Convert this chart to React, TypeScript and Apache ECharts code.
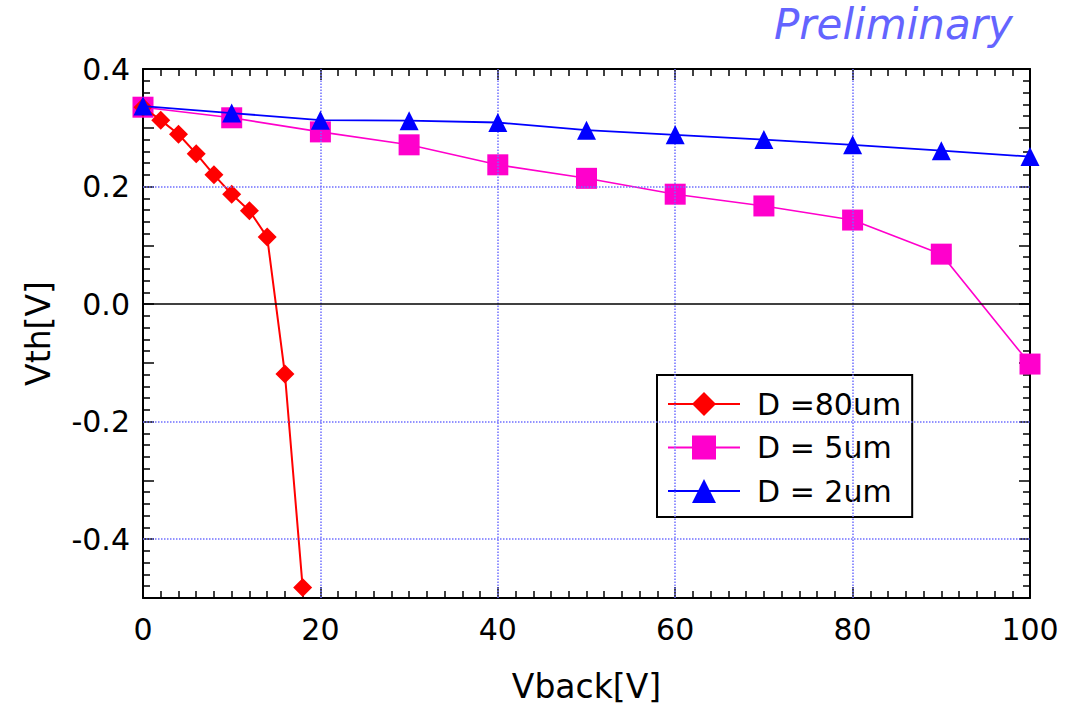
import { useEffect, useRef } from "react";
import * as echarts from "echarts";

// Threshold voltage vs. back-bias voltage for three doping depths
const vback80 = [0, 2, 4, 6, 8, 10, 12, 14, 16, 18];
const vth80 = [0.335, 0.313, 0.289, 0.256, 0.22, 0.187, 0.159, 0.114, -0.119, -0.482];

const vback5 = [0, 10, 20, 30, 40, 50, 60, 70, 80, 90, 100];
const vth5 = [0.335, 0.317, 0.293, 0.271, 0.237, 0.214, 0.187, 0.167, 0.143, 0.085, -0.102];

const vback2 = [0, 10, 20, 30, 40, 50, 60, 70, 80, 90, 100];
const vth2 = [0.337, 0.325, 0.313, 0.312, 0.309, 0.296, 0.288, 0.28, 0.271, 0.261, 0.251];

const seriesNames = ["D =80um", "D = 5um", "D = 2um"];

// Dotted grid positions and the solid zero reference
const gridX = [20, 40, 60, 80];
const gridY = [0.2, -0.2, -0.4];
const zeroY = 0;

const FONT = "'DejaVu Sans', sans-serif";

function pairs(xs: number[], ys: number[]) {
  return xs.map((x, i) => [x, ys[i]]);
}

export default function App() {
  const ref = useRef<HTMLDivElement>(null);

  useEffect(() => {
    if (!ref.current) return;
    const chart = echarts.init(ref.current, undefined, { renderer: "svg" });

    const tickStyle = { color: "#000", width: 1.5 };
    const axisLine = { show: true, onZero: false, lineStyle: { color: "#000", width: 2 } };

    const xBase = {
      type: "value" as const,
      min: 0,
      max: 100,
      interval: 20,
      axisLine,
      axisTick: { show: true, inside: true, length: 11, lineStyle: tickStyle },
      minorTick: { show: true, splitNumber: 10, length: 7, lineStyle: tickStyle },
      splitLine: { show: false },
    };
    const yBase = {
      type: "value" as const,
      min: -0.5,
      max: 0.4,
      interval: 0.1,
      axisLine,
      axisTick: { show: true, inside: true, length: 11, lineStyle: tickStyle },
      minorTick: { show: true, splitNumber: 5, length: 7, lineStyle: tickStyle },
      splitLine: { show: false },
    };

    const gridLine = { type: "dotted" as const, color: "#6f6fff", width: 1.5 };

    chart.setOption({
      animation: false,
      backgroundColor: "#fff",
      grid: { left: 143, right: 49, top: 69, bottom: 112 },
      graphic: [
        {
          type: "text",
          left: 774,
          top: 3,
          style: {
            text: "Preliminary",
            font: `italic 42px 'DejaVu Sans', sans-serif`,
            fill: "#6464ff",
          },
        },
      ],
      legend: {
        orient: "vertical",
        left: 657,
        top: 375,
        data: seriesNames,
        backgroundColor: "#fff",
        borderColor: "#000",
        borderWidth: 2,
        borderRadius: 0,
        padding: [14, 11, 11, 10],
        itemWidth: 72,
        itemHeight: 30,
        itemGap: 13.5,
        textStyle: { fontFamily: FONT, fontSize: 30, color: "#000", padding: [0, 0, 0, 12] },
      },
      xAxis: [
        {
          ...xBase,
          position: "bottom",
          name: "Vback[V]",
          nameLocation: "middle",
          nameGap: 72,
          nameTextStyle: { fontFamily: FONT, fontSize: 33, color: "#000" },
          axisLabel: { fontFamily: FONT, fontSize: 30, color: "#000", margin: 16 },
        },
        { ...xBase, position: "top", axisLabel: { show: false } },
      ],
      yAxis: [
        {
          ...yBase,
          position: "left",
          name: "Vth[V]",
          nameLocation: "middle",
          nameGap: 88,
          nameRotate: 90,
          nameTextStyle: { fontFamily: FONT, fontSize: 33, color: "#000" },
          axisLabel: {
            fontFamily: FONT,
            fontSize: 30,
            color: "#000",
            margin: 13,
            formatter: (v: number) => {
              const k = Math.round(v * 10);
              if (k % 2 !== 0) return "";
              return k === 0 ? "0.0" : (k / 10).toFixed(1);
            },
          },
        },
        { ...yBase, position: "right", axisLabel: { show: false } },
      ],
      series: [
        {
          name: "__grid",
          type: "line",
          data: [],
          silent: true,
          z: 1,
          markLine: {
            silent: true,
            symbol: "none",
            label: { show: false },
            data: [
              ...gridX.map((x) => ({ xAxis: x, lineStyle: gridLine })),
              ...gridY.map((y) => ({ yAxis: y, lineStyle: gridLine })),
              { yAxis: zeroY, lineStyle: { type: "solid", color: "#000", width: 1.5 } },
            ],
          },
        },
        {
          name: seriesNames[0],
          type: "line",
          data: pairs(vback80, vth80),
          symbol: "diamond",
          symbolSize: 19,
          color: "#ff0000",
          lineStyle: { color: "#ff0000", width: 2 },
          z: 4,
        },
        {
          name: seriesNames[1],
          type: "line",
          data: pairs(vback5, vth5),
          symbol: "rect",
          symbolSize: 21,
          color: "#ff00cc",
          lineStyle: { color: "#ff00cc", width: 1.6 },
          z: 3,
        },
        {
          name: seriesNames[2],
          type: "line",
          data: pairs(vback2, vth2),
          symbol: "triangle",
          symbolSize: 19,
          color: "#0000ff",
          lineStyle: { color: "#0000ff", width: 1.8 },
          z: 5,
        },
      ],
    });

    return () => chart.dispose();
  }, []);

  return (
    <div
      ref={ref}
      style={{ position: "fixed", left: 0, top: 0, width: 1079, height: 710 }}
    />
  );
}
